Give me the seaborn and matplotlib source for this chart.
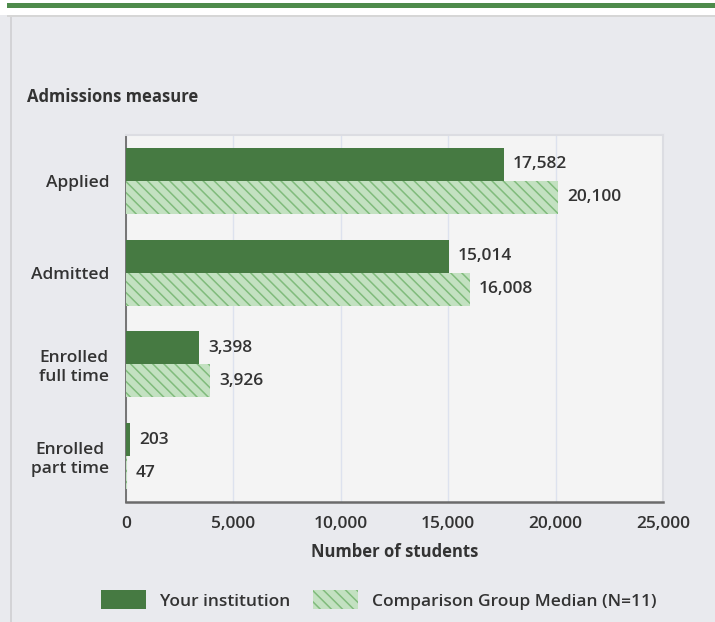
import numpy as np
import pandas as pd
import matplotlib
matplotlib.use('Agg')
import matplotlib.pyplot as plt
from matplotlib.patches import Patch, Rectangle
from matplotlib.ticker import FuncFormatter, FixedLocator
import seaborn as sns

# data
measures = ['Applied', 'Admitted', 'Enrolled\nfull time', 'Enrolled\npart time']
your_inst = [17582, 15014, 3398, 203]
comparison = [20100, 16008, 3926, 47]
series = ['Your institution', 'Comparison Group Median (N=11)']
xticks = [0, 5000, 10000, 15000, 20000, 25000]

df = pd.DataFrame({
    'measure': measures * 2,
    'students': your_inst + comparison,
    'group': [series[0]] * 4 + [series[1]] * 4,
})

dark = '#467a42'
light = '#c3e1c1'
hatch_col = '#80bb7c'
txt = '#333333'
fs = 12.5

sns.set_style('white')
plt.rcParams['font.family'] = ['Open Sans', 'DejaVu Sans']
plt.rcParams['hatch.linewidth'] = 1.1

W, H = 715, 622
fig = plt.figure(figsize=(W / 100, H / 100), dpi=100, facecolor='#e9eaee')

# page chrome: white strip, green rule, panel border
fig.patches.append(Rectangle((0, 1 - 15 / H), 1, 15 / H, transform=fig.transFigure,
                             facecolor='white', edgecolor='none', zorder=0))
fig.patches.append(Rectangle((7 / W, 1 - 8 / H), 1, 5 / H, transform=fig.transFigure,
                             facecolor='#4e8b4b', edgecolor='none', zorder=1))
fig.patches.append(Rectangle((7 / W, 1 - 16.5 / H), 1, 1.5 / H, transform=fig.transFigure,
                             facecolor='#d6d6d6', edgecolor='none', zorder=1))
fig.patches.append(Rectangle((10 / W, 0), 1.5 / W, 1 - 16.5 / H, transform=fig.transFigure,
                             facecolor='#d3d3d6', edgecolor='none', zorder=1))

ax = fig.add_axes([126 / W, 1 - 502 / H, (663 - 126) / W, (502 - 135) / H])
ax.set_facecolor('#f4f4f4')

sns.barplot(data=df, y='measure', x='students', hue='group', orient='h',
            palette=[dark, light], width=0.72, ax=ax, legend=False,
            linewidth=0, saturation=1, zorder=3)

n = len(measures)
for i, p in enumerate(ax.patches[:2 * n]):
    if i >= n:
        p.set_hatch('\\\\\\')
        p.set_edgecolor(hatch_col)
        p.set_linewidth(0)

# value labels
for cont in ax.containers:
    for bar in cont:
        v = bar.get_width()
        ax.annotate(f'{int(v):,}', xy=(v, bar.get_y() + bar.get_height() / 2),
                    xytext=(6.5, 0), textcoords='offset points',
                    va='center', ha='left', fontsize=fs, color=txt, fontweight='semibold')

ax.set_xlim(0, 25000)
ax.set_ylim(n - 0.5, -0.5)
ax.set_xticks(xticks)
ax.xaxis.set_major_formatter(FuncFormatter(lambda v, p: f'{int(v):,}'))
ax.tick_params(axis='x', length=0, pad=10, labelsize=fs, labelcolor=txt)
ax.tick_params(axis='y', which='major', length=0, pad=12, labelsize=fs, labelcolor=txt)
ax.yaxis.set_minor_locator(FixedLocator(np.arange(-0.5, n, 1)))
ax.tick_params(axis='y', which='minor', length=10, width=1.3, color='#6b6b6b')
for lab in ax.get_yticklabels() + ax.get_xticklabels():
    lab.set_multialignment('center')
    lab.set_fontweight('semibold')

ax.grid(axis='x', color='#dde2ee', linewidth=1, zorder=0)
ax.set_axisbelow(True)

for s in ['top', 'right']:
    ax.spines[s].set_color('#dcdde2')
    ax.spines[s].set_linewidth(1.5)
ax.spines['left'].set_color('#6b6b6b')
ax.spines['left'].set_linewidth(1.3)
ax.spines['bottom'].set_color('#6b6b6b')
ax.spines['bottom'].set_linewidth(1.8)

ax.set_ylabel('')
ax.set_xlabel('Number of students', fontsize=12, fontweight='bold', color=txt, labelpad=8)

fig.text(27 / W, 1 - 97 / H, 'Admissions measure', fontsize=12, fontweight='bold',
         color=txt, va='center', ha='left')

handles = [Patch(facecolor=dark, edgecolor=dark, linewidth=0),
           Patch(facecolor=light, edgecolor=hatch_col, linewidth=0, hatch='\\\\\\')]
leg = fig.legend(handles, series, loc='center', bbox_to_anchor=(379 / W, 1 - 600 / H), ncol=2,
                 frameon=False, fontsize=fs, handlelength=2.6, handleheight=1.3,
                 handletextpad=0.8, columnspacing=1.3, labelcolor=txt)
for t in leg.get_texts():
    t.set_fontweight('semibold')

fig.savefig('out.png', dpi=100, facecolor=fig.get_facecolor())
